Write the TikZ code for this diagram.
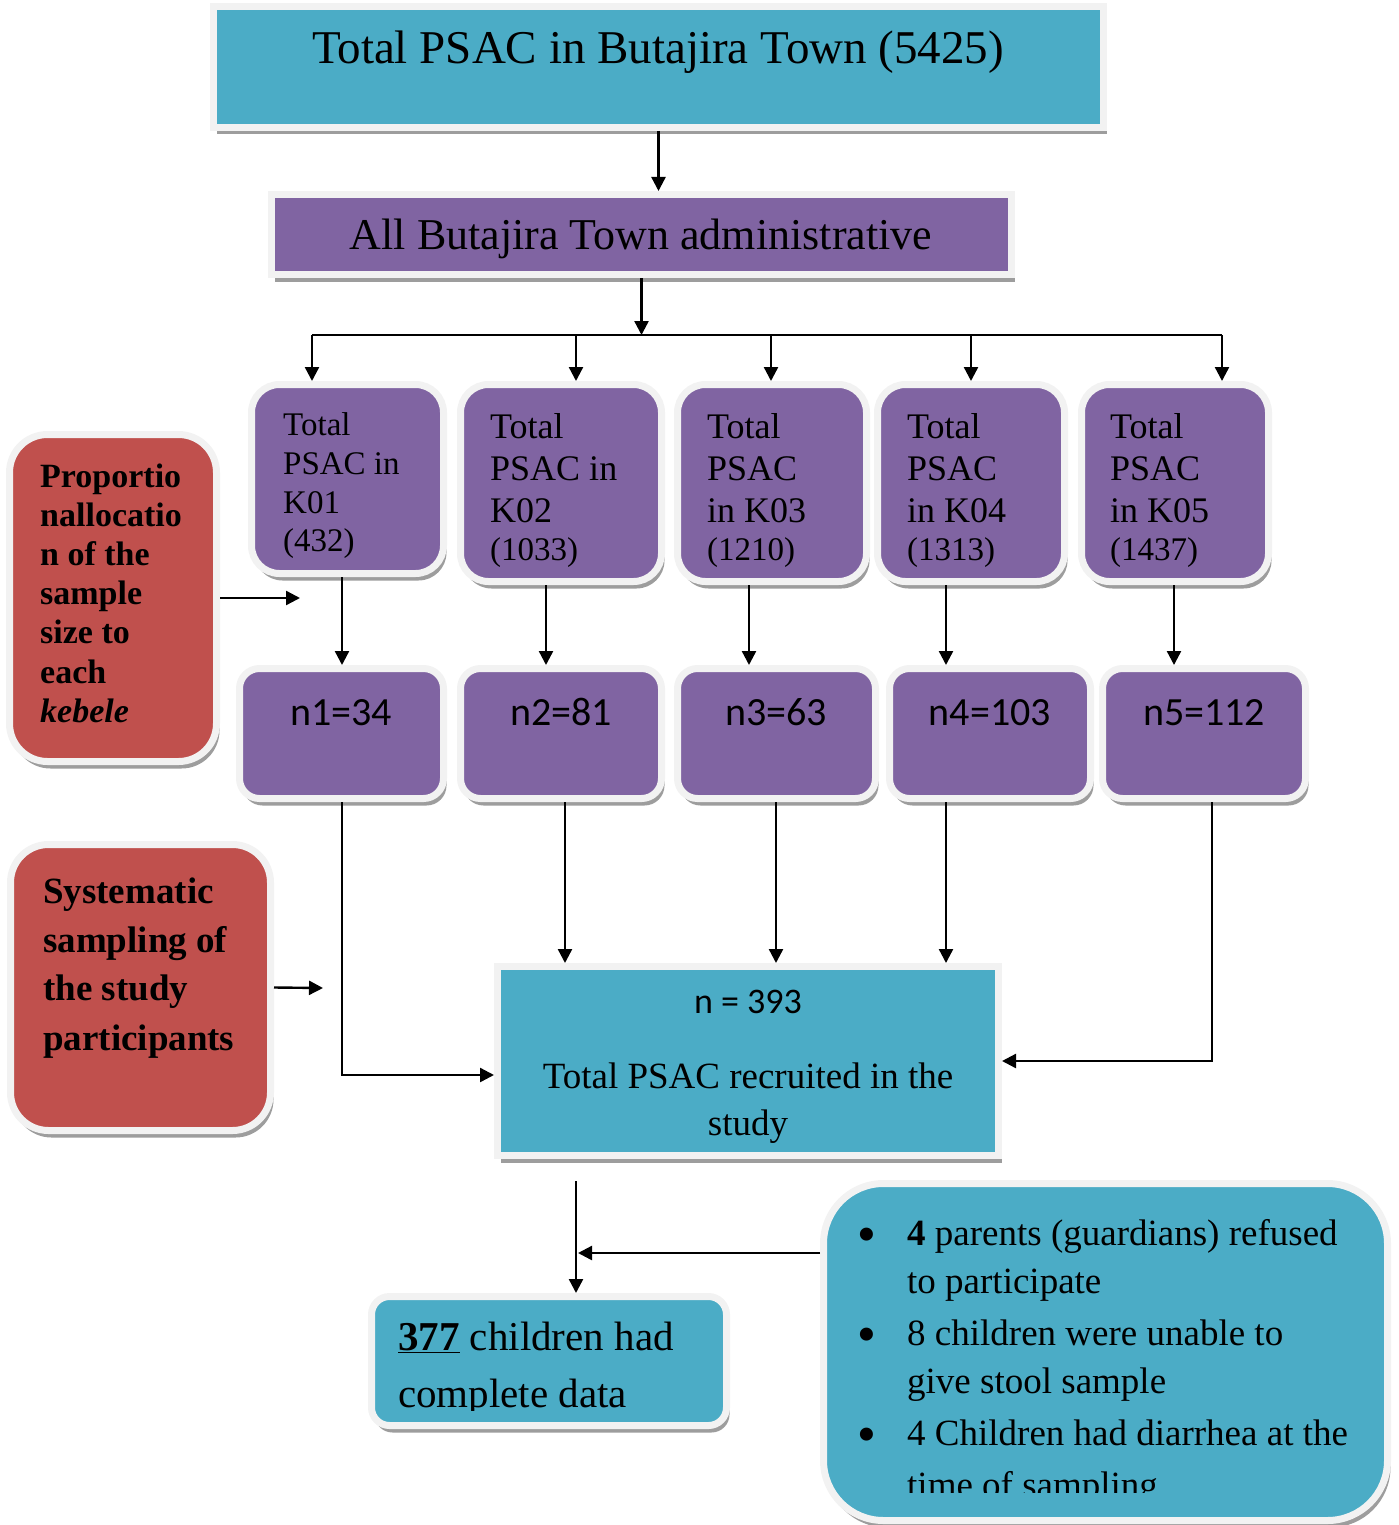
\documentclass[tikz,border=0pt]{standalone}
\usepackage{fontspec}
\setmainfont{Liberation Serif}
\newfontfamily\carl{Carlito}
\usetikzlibrary{arrows.meta,shadows}
\definecolor{cteal}{HTML}{4BACC6}
\definecolor{cpurp}{HTML}{8064A2}
\definecolor{cred}{HTML}{C0504D}
\newcommand\fs[1]{\fontsize{#1}{#1}\selectfont}
\newcommand\mkbox[6]{\node[#6, minimum width={#4-#2+7}, minimum height={#5-#3+7}] (#1) at ({(#2+#4)/2},{(#3+#5)/2}) {};}
\newcommand\tl[4]{\node[txt] (#1) at (#2,#3) {#4};}
\newcommand\tc[4]{\node[txtc] (#1) at (#2,#3) {#4};}
\tikzset{
  frame/.style={draw=black!5, line width=7pt, inner sep=0pt,
    drop shadow={shadow xshift=3pt, shadow yshift=-7pt, fill=black!55, opacity=.7}},
  tealbox/.style={frame, fill=cteal},
  purpbox/.style={frame, fill=cpurp},
  redbox/.style={frame, fill=cred, rounded corners=38pt},
  kbox/.style={purpbox, rounded corners=28pt},
  nbox/.style={purpbox, rounded corners=20pt},
  txt/.style={anchor=base west, inner sep=0pt},
  txtc/.style={anchor=base, inner sep=0pt},
  arr/.style={-{Triangle[length=14pt,width=14pt]}, line width=2.4pt},
  ln/.style={line width=2.4pt}
}
\begin{document}
\begin{tikzpicture}[x=1pt,y=-1pt]
\useasboundingbox (0,0) rectangle (1399,1525);
% boxes
\mkbox{T}{217}{10}{1100}{124}{tealbox}
\mkbox{A}{275}{198}{1008}{271}{purpbox}
\mkbox{K1}{255}{388}{440}{570}{kbox}
\mkbox{K2}{464}{388}{658}{578}{kbox}
\mkbox{K3}{681}{388}{863}{578}{kbox}
\mkbox{K4}{881}{388}{1061}{578}{kbox}
\mkbox{K5}{1085}{388}{1265}{578}{kbox}
\mkbox{N1}{243}{672}{440}{795}{nbox}
\mkbox{N2}{464}{672}{658}{795}{nbox}
\mkbox{N3}{681}{672}{872}{795}{nbox}
\mkbox{N4}{893}{672}{1087}{795}{nbox}
\mkbox{N5}{1106}{672}{1302}{795}{nbox}
\mkbox{R1}{13}{438}{213}{758}{redbox}
\mkbox{R2}{14}{848}{267}{1127}{redbox}
\mkbox{C}{501}{970}{995}{1152}{tealbox}
\mkbox{D}{375}{1300}{723}{1422}{tealbox, rounded corners=18pt}
\mkbox{E}{827}{1187}{1384}{1517}{tealbox, rounded corners=60pt}
% texts
\tc{tT}{658}{64}{\fs{47}Total PSAC in Butajira Town (5425)}
\tc{tA}{641}{249}{\fs{44}All Butajira Town administrative}
\tl{k1a}{283}{435}{\fs{33}Total}
\tl{k1b}{283}{474}{\fs{33}PSAC in}
\tl{k1c}{283}{513}{\fs{33}K01}
\tl{k1d}{283}{551}{\fs{33}(432)}
\tl{k2a}{490}{438}{\fs{36}Total}
\tl{k2b}{490}{480}{\fs{36}PSAC in}
\tl{k2c}{490}{522}{\fs{36}K02}
\tl{k2d}{490}{560}{\fs{33}(1033)}
\tl{k3a}{707}{438}{\fs{36}Total}
\tl{k3b}{707}{480}{\fs{36}PSAC}
\tl{k3c}{707}{522}{\fs{36}in K03}
\tl{k3d}{707}{560}{\fs{33}(1210)}
\tl{k4a}{907}{438}{\fs{36}Total}
\tl{k4b}{907}{480}{\fs{36}PSAC}
\tl{k4c}{907}{522}{\fs{36}in K04}
\tl{k4d}{907}{560}{\fs{33}(1313)}
\tl{k5a}{1110}{438}{\fs{36}Total}
\tl{k5b}{1110}{480}{\fs{36}PSAC}
\tl{k5c}{1110}{522}{\fs{36}in K05}
\tl{k5d}{1110}{560}{\fs{33}(1437)}
\tc{n1t}{341}{725}{\carl\fs{40}n1=34}
\tc{n2t}{561}{725}{\carl\fs{40}n2=81}
\tc{n3t}{776}{725}{\carl\fs{40}n3=63}
\tc{n4t}{990}{725}{\carl\fs{40}n4=103}
\tc{n5t}{1204}{725}{\carl\fs{40}n5=112}
\tl{r1a}{40}{487}{\fs{34}\bfseries Proportio}
\tl{r1b}{40}{526}{\fs{34}\bfseries nallocatio}
\tl{r1c}{40}{565}{\fs{34}\bfseries n of the}
\tl{r1d}{40}{604}{\fs{34}\bfseries sample}
\tl{r1e}{40}{643}{\fs{34}\bfseries size to}
\tl{r1f}{40}{683}{\fs{34}\bfseries each}
\tl{r1g}{40}{722}{\fs{34}\bfseries\itshape kebele}
\tl{r2a}{43}{903}{\fs{37}\bfseries Systematic}
\tl{r2b}{43}{952}{\fs{37}\bfseries sampling of}
\tl{r2c}{43}{1000}{\fs{37}\bfseries the study}
\tl{r2d}{43}{1050}{\fs{37}\bfseries participants}
\tc{ca}{748}{1013}{\carl\fs{36}n = 393}
\tc{cb}{748}{1088}{\fs{37}Total PSAC recruited in the}
\tc{cc}{748}{1135}{\fs{37}study}
\tl{da}{398}{1350}{\fs{41}\underline{\textbf{377}} children had}
\begin{scope}
\clip (375,1300) rectangle (723,1410);
\tl{db}{398}{1407}{\fs{41}complete data}
\end{scope}
\tl{eb1}{858}{1250}{\fs{48}\textbf{•}}
\tl{eb2}{858}{1350}{\fs{48}\textbf{•}}
\tl{eb3}{858}{1450}{\fs{48}\textbf{•}}
\tl{ea}{907}{1245}{\fs{37}\textbf{4} parents (guardians) refused}
\tl{eb}{907}{1293}{\fs{37}to participate}
\tl{ec}{907}{1345}{\fs{37}8 children were unable to}
\tl{ed}{907}{1393}{\fs{37}give stool sample}
\tl{ee}{907}{1445}{\fs{37}4 Children had diarrhea at the}
\begin{scope}
\clip (827,1300) rectangle (1384,1492);
\tl{ef}{907}{1497}{\fs{37}time of sampling}
\end{scope}
% coordinates
\coordinate (bus) at (641.5,335);
\coordinate (bl) at (312,335);
\coordinate (br) at (1222,335);
\foreach \n/\x in {1/312,2/576,3/771,4/971,5/1222} {\coordinate (d\n) at (\x,335);}
\foreach \n/\x in {1/342,2/546,3/749,4/946,5/1174} {\coordinate (kx\n) at (\x,0);}
\foreach \n/\x in {1/342,2/565,3/776,4/946,5/1212} {\coordinate (nx\n) at (\x,0);}
\coordinate (cx) at (576,0);
\coordinate (p1) at (300,598);
\coordinate (p2) at (323,988);
\coordinate (ew) at (578,1253);
% connectors
\draw[arr] (T.south) -- (T.south |- A.north);
\draw[arr] (A.south) -- (bus);
\draw[ln] (bl) -- (br);
\foreach \n in {1,...,5} {\draw[arr] (d\n) -- (d\n |- K\n.north);}
\foreach \n in {1,...,5} {\draw[arr] (K\n.south -| kx\n) -- (N\n.north -| kx\n);}
\foreach \n in {2,3,4} {\draw[arr] (N\n.south -| nx\n) -- (C.north -| nx\n);}
\draw[arr] (N1.south -| nx1) |- ([yshift=-14pt]C.west);
\draw[arr] (N5.south -| nx5) |- (C.east);
\draw[arr] ([yshift=-22pt]C.south -| cx) -- (D.north -| cx);
\draw[arr] ([yshift=99pt]E.west) -- (ew);
\draw[arr] (R1.east) -- (p1);
\draw[arr] (R2.east) -- (p2);
\end{tikzpicture}
\end{document}
